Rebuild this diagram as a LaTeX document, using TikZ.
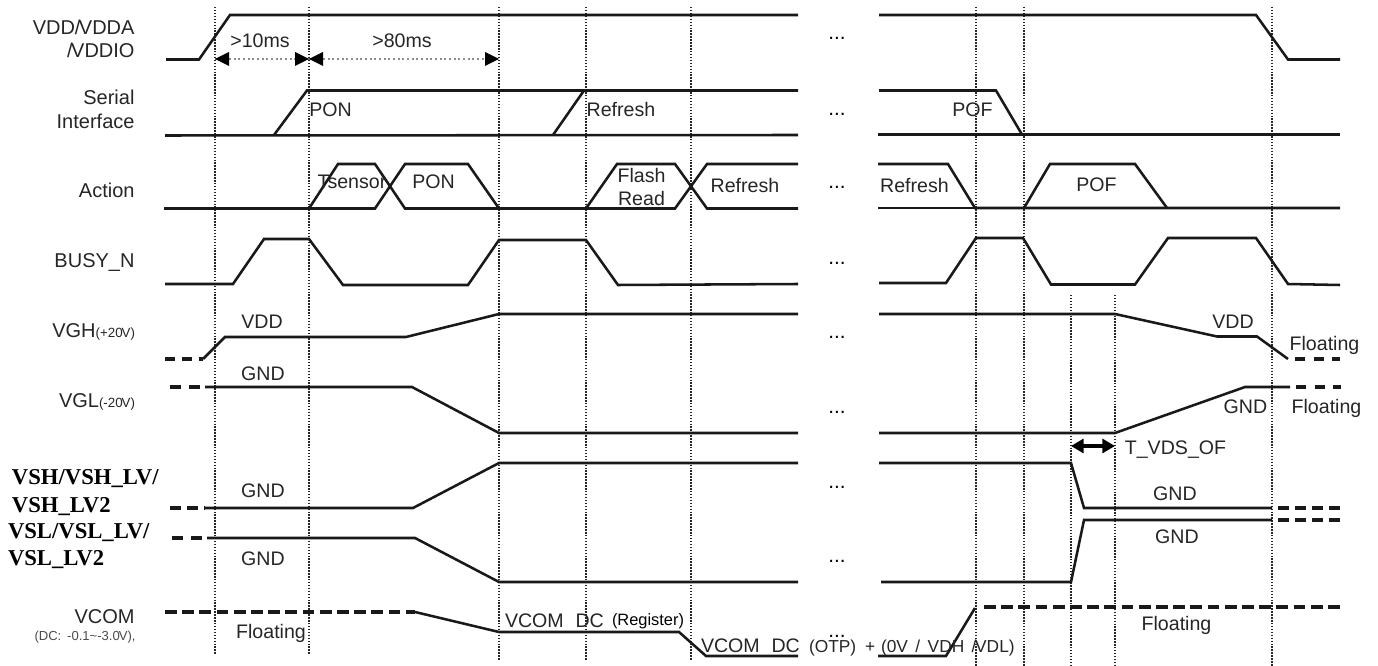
\documentclass[tikz,border=0pt]{standalone}
\usepackage{fontspec}
\setmainfont{Liberation Sans}
\newfontfamily\boldserif{Liberation Serif}
\usetikzlibrary{arrows.meta}
\newcommand{\tx}{\fontsize{14.7}{16}\selectfont}
\newcommand{\txl}{\fontsize{15}{16}\selectfont}
\newcommand{\smf}{\fontsize{10}{11}\selectfont}
\newcommand{\kn}{\kern-0.08em}
% solid segments: x1, x2, y, on, off, width
\newcommand{\dashrun}[6]{%
  \pgfmathtruncatemacro\nnseg{(#2-#1)/(#4+#5)}%
  \foreach \iseg in {0,...,\nnseg}{%
    \pgfmathsetmacro\xsa{#1+\iseg*(#4+#5)}%
    \pgfmathsetmacro\xsb{min(\xsa+#4,#2)}%
    \draw[line width=#6,black!90] (\xsa,#3) -- (\xsb,#3);}}
\tikzset{
  x=0.75pt,y=-0.75pt,
  wave/.style={line width=1.9pt,black!90,line join=miter},
  guide/.style={line width=1.5pt,black!85,dash pattern=on 1.1pt off 1.1pt},
  lbl/.style={inner sep=0pt,outer sep=0pt,anchor=base,font=\tx,text=black!85},
  lblr/.style={lbl,anchor=base east,font=\txl},
  lbll/.style={lbl,anchor=base west},
  bsf/.style={inner sep=0pt,outer sep=0pt,anchor=base west,text=black,font=\boldserif\bfseries\fontsize{17}{18}\selectfont},
  dots/.style={lbl,font=\fontsize{15.5}{16}\selectfont,text=black},
  meas/.style={line width=1.5pt,black!45,dash pattern=on 1.5pt off 2pt},
  head/.style={fill=black},
}
\begin{document}
\begin{tikzpicture}
\useasboundingbox[fill=white] (0,0) rectangle (1378,666);
% guides
\foreach \gx/\ga/\gb in {215/7/654,309/7/654,499/7/660,586/7/660,691/7/660,976/7/666,1023.5/7/666,1071/295/666,1115/295/666,1272/7/666}
  \draw[guide] (\gx,\ga) -- (\gx,\gb);
% VDD
\draw[wave] (166,59.5) -- (199,59.5) -- (230,15) -- (798,15);
\draw[wave] (879,15) -- (1256,15) -- (1288,59.5) -- (1340,59.5);
% Serial
\draw[wave] (165,135.5) -- (798,135);
\draw[wave] (274,135) -- (307,90.5) -- (798,90.5);
\draw[wave] (553,135) -- (584,90.5);
\draw[wave] (879,90.5) -- (996,90.5) -- (1022,134.5);
\draw[wave] (878,134.5) -- (1340,134.5);
% Action
\draw[wave] (164,208.5) -- (309,208.5) -- (338,164) -- (375,164) -- (405,208.5) -- (499,208.5) -- (586,208.5) -- (617,164) -- (675,164) -- (707,208.5) -- (798,208.5);
\draw[wave] (309,208.5) -- (375,208.5) -- (405,164) -- (468,164) -- (499,208.5);
\draw[wave] (586,208.5) -- (675,208.5) -- (707,164) -- (798,164);
\draw[wave] (878,164) -- (948,164) -- (975,208) -- (1340,208);
\draw[wave] (878,208) -- (975,208);
\draw[wave] (1024,208) -- (1050,164) -- (1135,164) -- (1167,208);
% BUSY_N
\draw[wave] (165,284) -- (233,284) -- (264,239) -- (309,239) -- (343,285) -- (468,285) -- (499,240) -- (586,240) -- (618,285) -- (798,284);
\draw[wave] (879,283) -- (946,283) -- (976,238) -- (1023,238) -- (1051,284.5) -- (1135,284.5) -- (1168,238) -- (1256,238) -- (1288,284) -- (1340,285);
% VGH
\dashrun{165}{203}{359}{10}{7}{2.4pt}
\draw[wave] (203,359) -- (225,337) -- (406,337) -- (499,314) -- (798,314);
\draw[wave] (879,314) -- (1115,314) -- (1217,336.5) -- (1257,336.5) -- (1288,359);
\dashrun{1295}{1340}{359}{10}{8.5}{2.4pt}
% VGL
\dashrun{170}{205}{387}{11}{8}{2.4pt}
\draw[wave] (205,387) -- (412,387) -- (499,433) -- (798,433);
\draw[wave] (879,433) -- (1115,433) -- (1245,387) -- (1290,387);
\dashrun{1296}{1341}{387}{10}{8.5}{2.4pt}
% VSH
\dashrun{170}{205}{508}{11}{6}{2.4pt}
\draw[wave] (205,508) -- (413,508) -- (499,463) -- (798,463);
\draw[wave] (879,463) -- (1071,463) -- (1084,508) -- (1272,508);
\dashrun{1278}{1340}{508}{11}{6}{2.4pt}
% VSL
\dashrun{172}{207}{538}{11}{8}{2.4pt}
\draw[wave] (207,538) -- (415,538) -- (499,582) -- (798,582);
\draw[wave] (881,582) -- (1071,582) -- (1084,520) -- (1272,520);
\dashrun{1278}{1340}{520}{11}{6}{2.4pt}
% VCOM
\dashrun{165}{415}{612}{11.7}{5.5}{2.6pt}
\draw[wave] (415,612) -- (499,632) -- (679,632) -- (706,656) -- (798,656);
\draw[wave] (878,656) -- (946,656) -- (975,608);
\dashrun{984}{1340}{607}{11.7}{5.5}{2.6pt}
% measures
\coordinate (m1a) at (215,59);
\coordinate (m1b) at (309,59);
\coordinate (m2a) at (309,59);
\coordinate (m2b) at (499,59);
\coordinate (t1) at (1071,446);
\coordinate (t2) at (1115,446);
\draw[meas] (m1a) -- (m1b);
\draw[meas] (m2a) -- (m2b);
\fill[head] (m1a) -- ++(14,-7) -- ++(0,14) -- cycle;
\fill[head] (m1b) -- ++(-14,-7) -- ++(0,14) -- cycle;
\fill[head] (m2a) -- ++(14,-7) -- ++(0,14) -- cycle;
\fill[head] (m2b) -- ++(-14,-7) -- ++(0,14) -- cycle;
\draw[line width=2.4pt,black,{Triangle[length=9.5pt,width=10.5pt]}-{Triangle[length=9.5pt,width=10.5pt]}] (t1) -- (t2);
% left labels
\node[lblr] (l1) at (134.5,35) {VDD/\kn VDDA};
\node[lblr] (l2) at (134.5,58) {/\kn VDDIO};
\node[lblr] (l3) at (134.5,105) {Serial};
\node[lblr] (l4) at (134.5,129) {Interface};
\node[lblr] (l5) at (134.5,198) {Action};
\node[lblr] (l6) at (134.5,268) {BUSY\_N};
\node[lblr] (l7) at (135,338) {VGH{\smf(+20\kn V)}};
\node[lblr] (l8) at (135,408) {VGL{\smf(-20\kn V)}};
\node[bsf] (l9) at (12,484) {VSH/VSH\_LV/};
\node[bsf] (l10) at (12,512) {VSH\_LV2};
\node[bsf] (l11) at (8,538) {VSL/VSL\_LV/};
\node[bsf] (l12) at (8,565) {VSL\_LV2};
\node[lblr] (l13) at (134.5,623) {VCOM};
\node[lblr,font=\fontsize{9.8}{11}\selectfont,text=black!70] (l14) at (135.5,640) {(DC:\, -0.1\textasciitilde-3.0\kn V),};
% inner labels
\node[lbl] (a1) at (260,48) {>10ms};
\node[lbl] (a2) at (402,48) {>80ms};
\node[lbl] (a3) at (330.5,117) {PON};
\node[lbl] (a4) at (352,189) {Tsensor};
\node[lbl] (a5) at (433.5,189) {PON};
\node[lbl] (a6) at (621,117) {Refresh};
\node[lbl] (a7) at (641.5,183) {Flash};
\node[lbl] (a8) at (641.5,206) {Read};
\node[lbl] (a9) at (745,193) {Refresh};
\node[lbl] (a10) at (914.5,193) {Refresh};
\node[lbl] (a11) at (972.5,117) {POF};
\node[lbl] (a12) at (1096.5,192) {POF};
\node[lbl] (b1) at (262,329) {VDD};
\node[lbl] (b2) at (263,381) {GND};
\node[lbl] (b3) at (263,497) {GND};
\node[lbl] (b4) at (263,565) {GND};
\node[lbl] (b5) at (271,638) {Floating};
\node[lbl] (c1) at (1233,329) {VDD};
\node[lbl] (c2) at (1324.5,351) {Floating};
\node[lbl] (c3) at (1245.5,414) {GND};
\node[lbl] (c4) at (1326.5,414) {Floating};
\node[lbl] (c5) at (1175.5,455) {T\_VDS\_OF};
\node[lbl] (c6) at (1175,500) {GND};
\node[lbl] (c7) at (1177,543) {GND};
\node[lbl] (c8) at (1176.5,630) {Floating};
\node[lbll] (d1) at (505,627) {VCOM\hspace{0.6em}DC};
\node[lbll,font=\fontsize{12.3}{13}\selectfont,text=black] (d2) at (612,625) {(Register)};
\node[lbll] (d3) at (701,652) {VCOM\hspace{0.6em}DC};
\node[lbll,font=\fontsize{13}{14}\selectfont] (d4) at (809,652) {(OTP)};
\node[lbll,font=\fontsize{13}{14}\selectfont] (d5) at (865,652) {+};
\node[lbll,font=\fontsize{13}{14}\selectfont] (d6) at (881,652) {(0V\hspace{0.43em}/\hspace{0.43em}VDH\hspace{0.43em}/\kn VDL)};
% continuation dots
\foreach \dy [count=\di] in {38,114,187,263,337,412,487,561,636}
  \node[dots] (e\di) at (837,\dy+1.5) {...};
\end{tikzpicture}
\end{document}
